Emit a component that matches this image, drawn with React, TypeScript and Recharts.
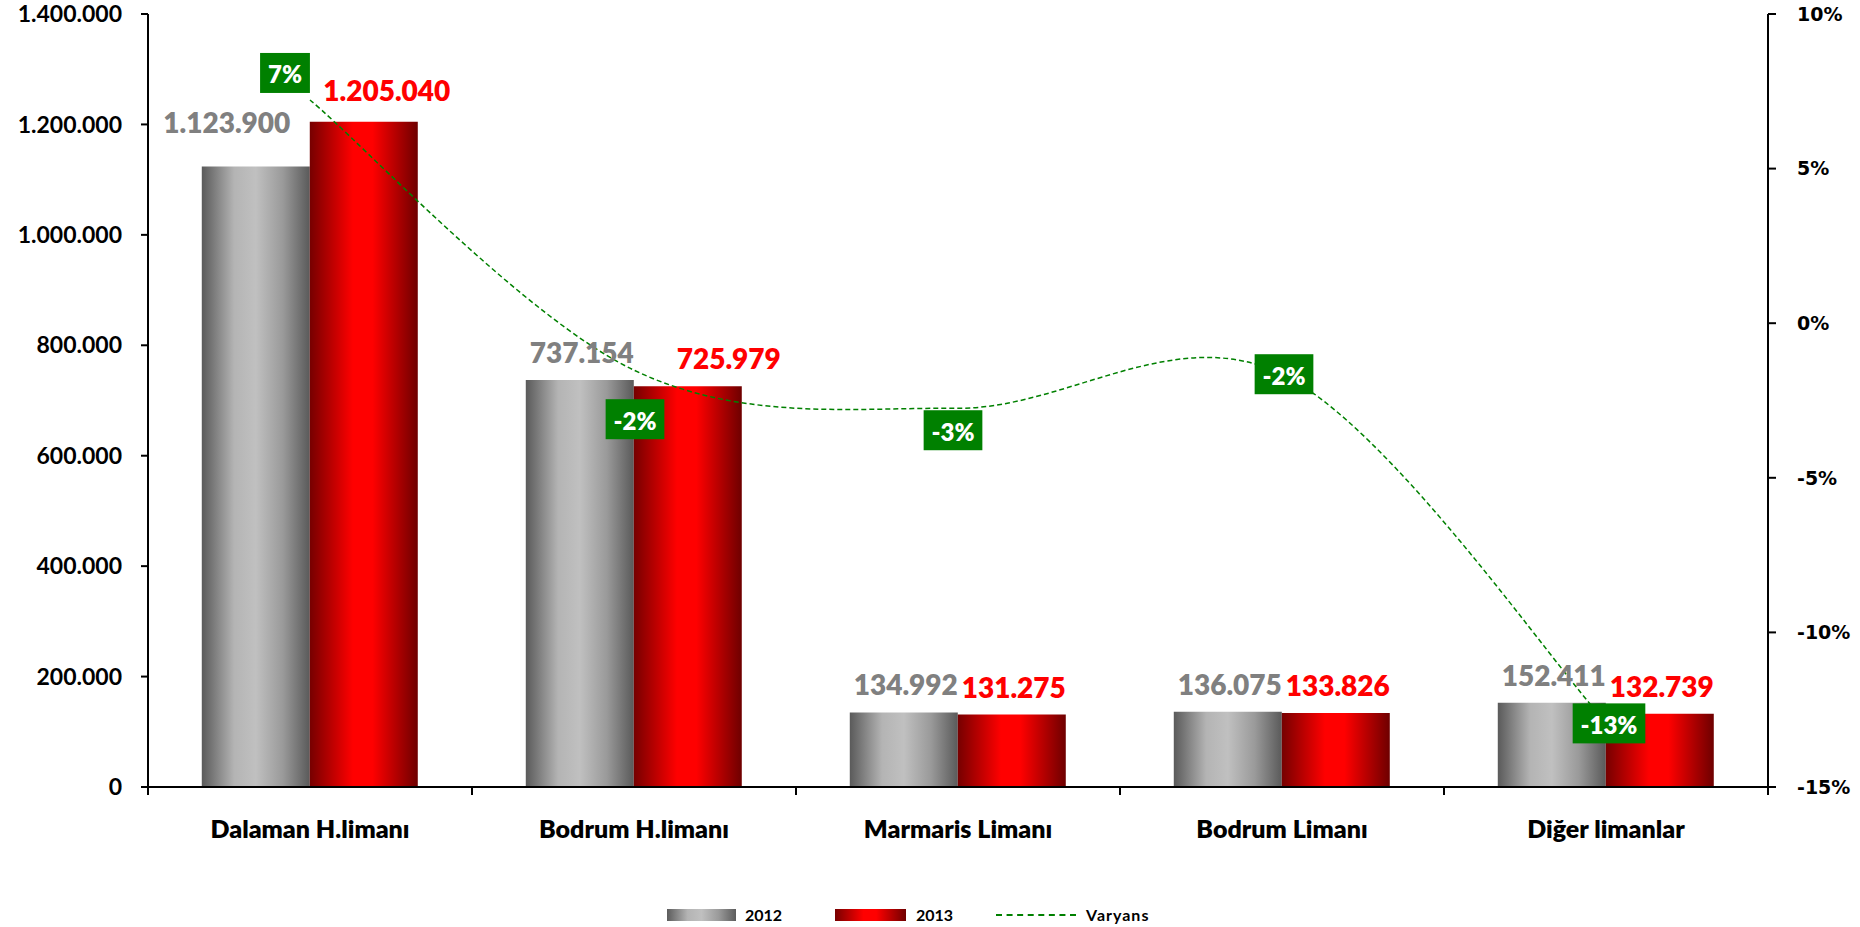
import React from 'react';
import { ComposedChart, Bar, Line, XAxis, YAxis, Legend, LabelList } from 'recharts';

const categories = ['Dalaman H.limanı', 'Bodrum H.limanı', 'Marmaris Limanı', 'Bodrum Limanı', 'Diğer limanlar'];
const values2012 = [1123900, 737154, 134992, 136075, 152411];
const values2013 = [1205040, 725979, 131275, 133826, 132739];
const varyans = [0.0722, -0.0152, -0.0275, -0.0165, -0.1291];
const leftTicks = [0, 200000, 400000, 600000, 800000, 1000000, 1200000, 1400000];
const rightTicks = [-0.15, -0.1, -0.05, 0, 0.05, 0.1];

// label nudges (style config, not data)
const greyNudge = [[-29, -16], [2, 0], [2, 0], [2, 0], [2, 0]];
const redNudge = [[23, -4], [41, 0], [2, 0], [2, 0], [2, 0]];
const varNudge = [[-25, -27], [1, 49], [-5, 22], [2, 0], [3, 1]];

const data = categories.map((name, i) => ({
  name,
  y2012: values2012[i],
  y2013: values2013[i],
  varyans: varyans[i],
}));

const FONT = 'Lato, "Open Sans", sans-serif';
const GREEN = '#008000';

const fmtThousands = (v: number) => String(Math.round(v)).replace(/\B(?=(\d{3})+(?!\d))/g, '.');
const fmtPct = (v: number) => `${Math.round(v * 100)}%`;

// Excel-like smoothed curve (Catmull-Rom as cubic Bezier)
const excelCurve: any = (context: any) => {
  let pts: number[][] = [];
  return {
    areaStart() {},
    areaEnd() {},
    lineStart() {
      pts = [];
    },
    point(x: number, y: number) {
      pts.push([+x, +y]);
    },
    lineEnd() {
      if (!pts.length) return;
      context.moveTo(pts[0][0], pts[0][1]);
      for (let i = 0; i < pts.length - 1; i++) {
        const p0 = pts[i - 1] || pts[i];
        const p1 = pts[i];
        const p2 = pts[i + 1];
        const p3 = pts[i + 2] || pts[i + 1];
        context.bezierCurveTo(
          p1[0] + (p2[0] - p0[0]) / 6,
          p1[1] + (p2[1] - p0[1]) / 6,
          p2[0] - (p3[0] - p1[0]) / 6,
          p2[1] - (p3[1] - p1[1]) / 6,
          p2[0],
          p2[1]
        );
      }
    },
  };
};

const CategoryTick = (props: any) => {
  const { x, y, payload, index } = props;
  const half = payload && typeof payload.offset === 'number' ? payload.offset : 0;
  return (
    <g>
      <line x1={x - half} x2={x - half} y1={y} y2={y + 8} stroke="#000" strokeWidth={2} />
      {index === categories.length - 1 && (
        <line x1={x + half} x2={x + half} y1={y} y2={y + 8} stroke="#000" strokeWidth={2} />
      )}
      <text
        x={x}
        y={y + 41}
        textAnchor="middle"
        dominantBaseline="central"
        fontFamily={FONT}
        fontWeight={800}
        fontSize={25}
        fill="#000"
      >
        {payload.value}
      </text>
    </g>
  );
};

const makeBarLabel = (color: string, nudge: number[][]) => (props: any) => {
  const { x, y, width, value, index } = props;
  const n = nudge[index] || [0, 0];
  return (
    <text
      x={Number(x) + Number(width) / 2 + n[0]}
      y={Number(y) - 28 + n[1]}
      textAnchor="middle"
      dominantBaseline="central"
      fontFamily={FONT}
      fontWeight={800}
      fontSize={28}
      fill={color}
    >
      {fmtThousands(Number(value))}
    </text>
  );
};

const charW = (s: string) =>
  s.split('').reduce((a, c) => a + (c === '%' ? 0.83 : c === '-' ? 0.37 : 0.58), 0);

const VarLabel = (props: any) => {
  const { x, y, value, index } = props;
  const n = varNudge[index] || [0, 0];
  const txt = fmtPct(Number(value));
  const w = charW(txt) * 24 + 16;
  const h = 40;
  const cx = Number(x) + n[0];
  const cy = Number(y) + n[1];
  return (
    <g>
      <rect x={cx - w / 2} y={cy - h / 2} width={w} height={h} fill={GREEN} />
      <text
        x={cx}
        y={cy + 1}
        textAnchor="middle"
        dominantBaseline="central"
        fontFamily={FONT}
        fontWeight={800}
        fontSize={24}
        fill="#fff"
      >
        {txt}
      </text>
    </g>
  );
};

const LegendContent = () => {
  const txt: React.CSSProperties = {
    position: 'absolute',
    top: 20,
    fontFamily: FONT,
    fontWeight: 700,
    fontSize: 16,
    lineHeight: '16px',
    color: '#000',
  };
  return (
    <div style={{ position: 'relative', width: 1860, height: 40 }}>
      <div
        style={{
          position: 'absolute',
          left: 667,
          top: 22,
          width: 69,
          height: 12,
          background: 'linear-gradient(to right, #5c5c5c 0%, #b4b4b4 30%, #c0c0c0 50%, #9a9a9a 75%, #5c5c5c 100%)',
        }}
      />
      <span style={{ ...txt, left: 745 }}>2012</span>
      <div
        style={{
          position: 'absolute',
          left: 835,
          top: 22,
          width: 71,
          height: 12,
          background: 'linear-gradient(to right, #780000 0%, #ff0000 40%, #ff0000 58%, #700000 100%)',
        }}
      />
      <span style={{ ...txt, left: 916 }}>2013</span>
      <div
        style={{
          position: 'absolute',
          left: 996,
          top: 27,
          width: 80,
          height: 0,
          borderTop: `2px dashed ${GREEN}`,
        }}
      />
      <span style={{ ...txt, left: 1086, letterSpacing: 1 }}>Varyans</span>
    </div>
  );
};

export default function App() {
  return (
    <div style={{ position: 'absolute', left: 0, top: 0, width: 1860, height: 927, background: '#fff', fontFamily: FONT }}>
      <ComposedChart
        width={1860}
        height={927}
        data={data}
        margin={{ top: 14, right: 0, bottom: 0, left: 0 }}
        barCategoryGap="16.6%"
        barGap={0}
      >
        <defs>
          <linearGradient id="gradGrey" x1="0" y1="0" x2="1" y2="0">
            <stop offset="0%" stopColor="#5a5a5a" />
            <stop offset="30%" stopColor="#b4b4b4" />
            <stop offset="50%" stopColor="#c0c0c0" />
            <stop offset="75%" stopColor="#9a9a9a" />
            <stop offset="100%" stopColor="#5a5a5a" />
          </linearGradient>
          <linearGradient id="gradRed" x1="0" y1="0" x2="1" y2="0">
            <stop offset="0%" stopColor="#760000" />
            <stop offset="40%" stopColor="#ff0000" />
            <stop offset="58%" stopColor="#ff0000" />
            <stop offset="100%" stopColor="#6e0000" />
          </linearGradient>
        </defs>
        <XAxis
          dataKey="name"
          height={100}
          tickSize={0}
          tickMargin={0}
          interval={0}
          axisLine={{ stroke: '#000', strokeWidth: 2 }}
          tickLine={false}
          tick={<CategoryTick />}
        />
        <YAxis
          yAxisId="left"
          orientation="left"
          width={148}
          domain={[0, 1400000]}
          ticks={leftTicks}
          interval={0}
          tickFormatter={fmtThousands}
          tickSize={7}
          tickMargin={19}
          axisLine={{ stroke: '#000', strokeWidth: 2 }}
          tickLine={{ stroke: '#000', strokeWidth: 2 }}
          tick={{ fill: '#000', fontSize: 23, fontWeight: 700, fontFamily: FONT }}
        />
        <YAxis
          yAxisId="right"
          orientation="right"
          width={92}
          domain={[-0.15, 0.1]}
          ticks={rightTicks}
          interval={0}
          tickFormatter={fmtPct}
          tickSize={8}
          tickMargin={21}
          axisLine={{ stroke: '#000', strokeWidth: 2 }}
          tickLine={{ stroke: '#000', strokeWidth: 2 }}
          tick={{ fill: '#000', fontSize: 19, fontWeight: 700, fontFamily: '"DejaVu Sans", Verdana, sans-serif' }}
        />
        <Legend verticalAlign="bottom" wrapperStyle={{ left: 0, width: 1860 }} content={() => <LegendContent />} />
        <Bar yAxisId="left" dataKey="y2012" name="2012" fill="url(#gradGrey)" isAnimationActive={false}>
          <LabelList dataKey="y2012" content={makeBarLabel('#808080', greyNudge)} />
        </Bar>
        <Bar yAxisId="left" dataKey="y2013" name="2013" fill="url(#gradRed)" isAnimationActive={false}>
          <LabelList dataKey="y2013" content={makeBarLabel('#ff0000', redNudge)} />
        </Bar>
        <Line
          yAxisId="right"
          dataKey="varyans"
          name="Varyans"
          type={excelCurve}
          stroke={GREEN}
          strokeWidth={1.5}
          strokeDasharray="5 3"
          dot={false}
          activeDot={false}
          isAnimationActive={false}
        >
          <LabelList dataKey="varyans" content={<VarLabel />} />
        </Line>
      </ComposedChart>
    </div>
  );
}
